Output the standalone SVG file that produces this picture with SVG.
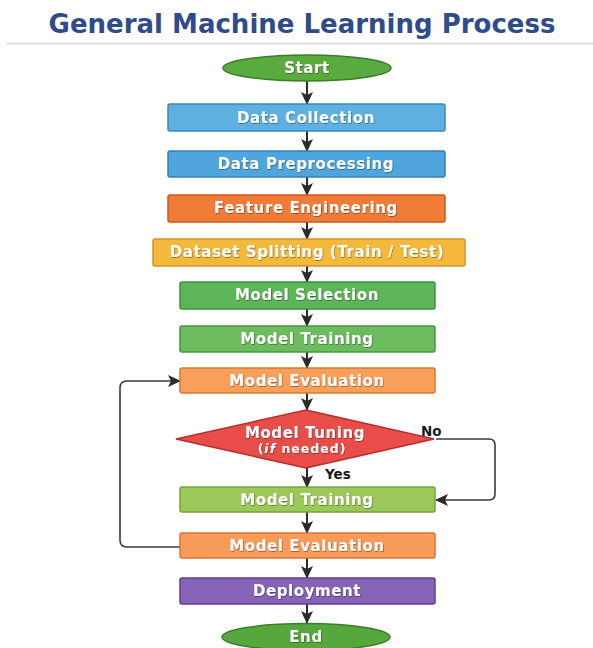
<svg xmlns="http://www.w3.org/2000/svg" width="593" height="648" viewBox="0 0 593 648">
<style>
.lbl{font-family:"DejaVu Sans",Verdana,sans-serif;font-weight:bold;font-size:15px;fill:#fff;text-anchor:middle;letter-spacing:0.6px;filter:url(#sh)}
.box{stroke-width:1.5}
.conn{fill:none;stroke:#2b2b2b;stroke-width:2}
.loop{fill:none;stroke:#3a3a3a;stroke-width:1.6}
.side{font-family:"DejaVu Sans",Verdana,sans-serif;font-weight:bold;font-size:13.5px;fill:#1a1a1a}
</style>
<defs>
<marker id="ah" markerWidth="13" markerHeight="12" refX="12" refY="6" orient="auto" markerUnits="userSpaceOnUse">
<path d="M0,0 L13,6 L0,12 L3,6 Z" fill="#2b2b2b"/>
</marker>
<filter id="sh" x="-10%" y="-30%" width="120%" height="160%">
<feDropShadow dx="0.6" dy="0.8" stdDeviation="0.6" flood-color="#000" flood-opacity="0.45"/>
</filter>
</defs>
<rect width="593" height="648" fill="#ffffff"/>
<text x="302" y="33" font-family="DejaVu Sans,Verdana,sans-serif" font-weight="bold" font-size="26" fill="#2f4b8a" text-anchor="middle">General Machine Learning Process</text>
<line x1="7" y1="43.5" x2="593" y2="43.5" stroke="#d6d6d6" stroke-width="1.5"/>

<g id="connectors">
<line class="conn" x1="307" y1="81" x2="307" y2="104" marker-end="url(#ah)"/>
<line class="conn" x1="307" y1="131" x2="307" y2="151" marker-end="url(#ah)"/>
<line class="conn" x1="307" y1="177" x2="307" y2="195" marker-end="url(#ah)"/>
<line class="conn" x1="307" y1="222" x2="307" y2="239" marker-end="url(#ah)"/>
<line class="conn" x1="307" y1="266" x2="307" y2="282" marker-end="url(#ah)"/>
<line class="conn" x1="307" y1="309" x2="307" y2="326" marker-end="url(#ah)"/>
<line class="conn" x1="307" y1="352" x2="307" y2="368" marker-end="url(#ah)"/>
<line class="conn" x1="307" y1="393" x2="307" y2="410" marker-end="url(#ah)"/>
<line class="conn" x1="307" y1="468" x2="307" y2="487" marker-end="url(#ah)"/>
<line class="conn" x1="307" y1="512" x2="307" y2="533" marker-end="url(#ah)"/>
<line class="conn" x1="307" y1="558" x2="307" y2="578" marker-end="url(#ah)"/>
<line class="conn" x1="307" y1="604" x2="307" y2="623" marker-end="url(#ah)"/>
<path class="loop" d="M436,439 H489 Q495,439 495,445 V494 Q495,500 489,500 H436" marker-end="url(#ah)"/>
<path class="loop" d="M180,547 H127 Q120,547 120,540 V388 Q120,381 127,381 H180" marker-end="url(#ah)"/>
<text class="side" x="421" y="436">No</text>
<text class="side" x="325" y="479">Yes</text>
</g>

<g id="start">
<ellipse cx="307" cy="68" rx="84" ry="13" fill="#5aab3e" stroke="#3b7d2a" stroke-width="1.5"/>
<text class="lbl" x="307" y="73">Start</text>
</g>
<g id="data-collection">
<rect class="box" x="168" y="104" width="277" height="27" rx="2" fill="#5db0e0" stroke="#3b88bf"/>
<text class="lbl" x="306" y="123">Data Collection</text>
</g>
<g id="data-preprocessing">
<rect class="box" x="168" y="151" width="277" height="26" rx="2" fill="#4fa6dc" stroke="#337fbd"/>
<text class="lbl" x="306" y="169">Data Preprocessing</text>
</g>
<g id="feature-engineering">
<rect class="box" x="168" y="195" width="277" height="27" rx="2" fill="#f07c38" stroke="#c95a1f"/>
<text class="lbl" x="306" y="213">Feature Engineering</text>
</g>
<g id="dataset-splitting">
<rect class="box" x="153" y="239" width="312" height="27" rx="2" fill="#f4b83a" stroke="#cf932a"/>
<text class="lbl" x="307" y="257">Dataset Splitting (Train / Test)</text>
</g>
<g id="model-selection">
<rect class="box" x="180" y="282" width="255" height="27" rx="2" fill="#5db55a" stroke="#3e8e3c"/>
<text class="lbl" x="307" y="300">Model Selection</text>
</g>
<g id="model-training-1">
<rect class="box" x="180" y="326" width="255" height="26" rx="2" fill="#6cbb5e" stroke="#479641"/>
<text class="lbl" x="307" y="344">Model Training</text>
</g>
<g id="model-evaluation-1">
<rect class="box" x="180" y="368" width="255" height="25" rx="2" fill="#f89f5a" stroke="#d67a36"/>
<text class="lbl" x="307" y="386">Model Evaluation</text>
</g>
<g id="model-tuning">
<polygon points="306,410 434,439 306,468 176,439" fill="#e84d4a" stroke="#b52f2d" stroke-width="1.5"/>
<text class="lbl" x="305" y="438">Model Tuning</text>
<text class="lbl" x="302" y="453" style="font-size:12.5px;letter-spacing:1px">(<tspan font-style="italic">if</tspan> needed)</text>
</g>
<g id="model-training-2">
<rect class="box" x="180" y="487" width="255" height="25" rx="2" fill="#9cc85a" stroke="#78a33c"/>
<text class="lbl" x="307" y="505">Model Training</text>
</g>
<g id="model-evaluation-2">
<rect class="box" x="180" y="533" width="255" height="25" rx="2" fill="#f89a58" stroke="#d67634"/>
<text class="lbl" x="307" y="551">Model Evaluation</text>
</g>
<g id="deployment">
<rect class="box" x="180" y="578" width="255" height="26" rx="2" fill="#8763b8" stroke="#5f4291"/>
<text class="lbl" x="307" y="596">Deployment</text>
</g>
<g id="end">
<ellipse cx="306" cy="637" rx="84" ry="13.5" fill="#57a83c" stroke="#3b7d2a" stroke-width="1.5"/>
<text class="lbl" x="306" y="642">End</text>
</g>
</svg>
